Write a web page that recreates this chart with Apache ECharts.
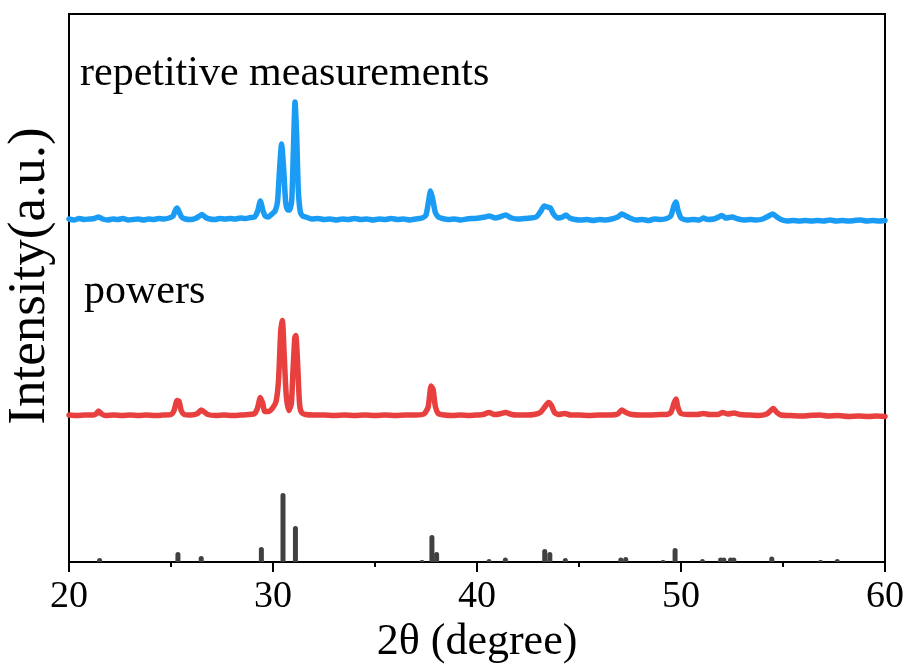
<!DOCTYPE html>
<html>
<head>
<meta charset="utf-8">
<script src="https://cdn.jsdelivr.net/npm/echarts@6/dist/echarts.min.js"></script>
<style>
  html, body { margin: 0; padding: 0; background: #fff; }
  #chart { width: 911px; height: 666px; }
</style>
</head>
<body>
<div id="chart"></div>
<script>
// Reference stick pattern: 2θ positions and relative intensities
const refTheta = [21.5, 25.34, 26.48, 29.43, 30.49, 31.1, 37.3, 37.79, 38.02, 40.59, 41.39, 43.32, 43.57, 44.33,
  47.05, 47.29, 49.12, 49.71, 51.05, 51.94, 52.1, 52.43, 52.59, 54.45, 56.84, 57.66];
const refIntensity = [4, 10, 6, 15, 69, 36, 2, 27, 10, 3, 4.5, 13, 10, 4,
  4.5, 5, 2, 14, 3, 4.5, 4.5, 4.5, 4.5, 5.5, 2, 3];

// Powder pattern
const powderTheta = [20.0, 20.4, 20.8, 21.2, 21.35, 21.45, 21.6, 21.8, 22.2, 22.6, 23.0, 23.4, 23.8, 24.2, 24.6, 25.0,
  25.15, 25.3, 25.4, 25.5, 25.65, 26.0, 26.3, 26.48, 26.6, 26.8, 27.2, 27.6, 28.0, 28.4, 28.8, 29.1,
  29.25, 29.38, 29.5, 29.6, 29.8, 30.0, 30.15, 30.27, 30.38, 30.46, 30.55, 30.65, 30.78, 30.9, 30.98,
  31.07, 31.12, 31.2, 31.3, 31.4, 31.6, 32.0, 32.5, 33.0, 33.5, 34.0, 34.5, 35.0, 35.5, 36.0, 36.5,
  37.0, 37.4, 37.6, 37.75, 37.85, 37.95, 38.1, 38.4, 38.8, 39.2, 39.6, 40.0, 40.3, 40.6, 40.85, 41.1,
  41.4, 41.7, 42.0, 42.4, 42.8, 43.1, 43.3, 43.5, 43.65, 43.8, 44.0, 44.3, 44.6, 45.0, 45.5, 46.0,
  46.5, 46.9, 47.1, 47.3, 47.6, 48.0, 48.5, 49.0, 49.3, 49.5, 49.65, 49.75, 49.85, 50.0, 50.4, 50.8,
  51.1, 51.4, 51.8, 52.05, 52.3, 52.6, 52.9, 53.3, 53.8, 54.2, 54.4, 54.52, 54.7, 54.9, 55.3, 55.8,
  56.3, 56.8, 57.2, 57.7, 58.2, 58.7, 59.2, 59.6, 60.0];
const powderIntensity = [0.5, 0, 0.5, 0.5, 2, 4.5, 1.5, 0, 0.5, 0, 0.5, 0, 0.5, 0, 0.5, 1,
  5, 15, 14, 5, 1, 0.5, 2, 5.5, 4, 1, 0, 0.5, 0, 0.5, 1, 2,
  8, 18, 12, 4, 4, 8, 14, 35, 85, 95, 60, 20, 5, 12, 45,
  78, 80, 55, 12, 3, 1, 0.5, 0.5, 0, 0.5, 0, 0.5, 0, 0.5, 0, 0.5,
  0.5, 1.5, 8, 29.5, 26, 10, 2, 0.5, 0, 0.5, 0, 0.5, 1, 3, 1, 1.5,
  3, 1, 0.5, 0.5, 1, 3, 8, 13, 10, 3, 1, 2, 0.5, 0.5, 0, 0.5,
  0.5, 1.5, 5.5, 3, 1, 0.5, 0.5, 1, 1, 3, 12, 16.5, 8, 2, 1, 1,
  2, 1, 1, 3, 1.5, 2.5, 1, 0.5, 0, 1.5, 5, 7, 3, 0.5, 0, -0.5,
  0, 0.5, -0.5, 0, -1, -0.5, -1, -0.5, -1];

// Repeated measurement pattern
const repeatTheta = [20.0, 20.25, 20.5, 20.75, 21.0, 21.25, 21.45, 21.65, 21.9, 22.15, 22.4, 22.65, 22.9, 23.15, 23.4,
  23.65, 23.9, 24.15, 24.4, 24.65, 24.9, 25.1, 25.22, 25.3, 25.4, 25.52, 25.7, 25.95, 26.2, 26.4, 26.52,
  26.7, 26.9, 27.15, 27.4, 27.65, 27.9, 28.15, 28.4, 28.65, 28.9, 29.1, 29.25, 29.38, 29.5, 29.62, 29.78,
  29.95, 30.1, 30.22, 30.32, 30.42, 30.52, 30.62, 30.72, 30.82, 30.92, 31.0, 31.08, 31.16, 31.24, 31.34,
  31.45, 31.6, 31.9, 32.2, 32.5, 32.8, 33.1, 33.4, 33.7, 34.0, 34.3, 34.6, 34.9, 35.2, 35.5, 35.8, 36.1,
  36.4, 36.7, 37.0, 37.3, 37.5, 37.62, 37.72, 37.82, 37.95, 38.1, 38.3, 38.6, 38.9, 39.2, 39.5, 39.8,
  40.1, 40.4, 40.6, 40.9, 41.1, 41.4, 41.7, 42.0, 42.3, 42.6, 42.9, 43.1, 43.3, 43.45, 43.6, 43.75,
  43.95, 44.2, 44.35, 44.55, 44.8, 45.1, 45.4, 45.7, 46.0, 46.3, 46.6, 46.9, 47.1, 47.3, 47.5, 47.8,
  48.1, 48.4, 48.7, 49.0, 49.3, 49.5, 49.65, 49.75, 49.85, 50.0, 50.3, 50.6, 50.9, 51.1, 51.3, 51.6,
  51.85, 52.0, 52.2, 52.5, 52.8, 53.1, 53.4, 53.7, 54.0, 54.3, 54.5, 54.7, 54.9, 55.2, 55.5, 55.8,
  56.1, 56.4, 56.7, 57.0, 57.3, 57.6, 57.9, 58.2, 58.5, 58.8, 59.1, 59.4, 59.7, 60.0];
const repeatIntensity = [1, 0, 1.5, 0.5, 1, 1.5, 3, 1, 0, 1, 0.5, 1.5, 0, 0.5, 1,
  0, 1, 0.5, 1.5, 1, 2, 4, 10, 12, 8, 3, 1, 0.5, 1.5, 4, 5.5,
  2.5, 1, 0.5, 1.5, 1, 1.5, 1, 2, 1.5, 2.5, 3, 9, 19, 10, 4, 3,
  6, 9, 18, 50, 76, 52, 18, 10, 10, 20, 70, 118, 85, 30, 8,
  4, 3, 1, 1.5, 0.5, 1, 0, 1, 0.5, 1.5, 0.5, 1, 0, 1, 0.5, 1.5, 0.5,
  1, 0, 1, 2, 5, 18, 29, 22, 8, 3, 1.5, 0.5, 1, 0, 1, 1.5,
  2, 3, 4, 2, 3, 5, 2, 1, 1.5, 2, 3, 8, 14, 13, 12, 6,
  2, 3, 5, 2, 0.5, 0, 0.5, -0.5, 0.5, 0, 1, 3, 6, 4, 2, 0,
  0.5, -0.5, 1, 0.5, 1.5, 4, 14, 18, 10, 2, 0, 0.5, 0, 2, 0.5, 1,
  3, 4.5, 2, 3, 1, 0, 0.5, 0, 1, 4, 6, 3, 0.5, -1, -0.5, -1,
  -0.5, -1, -0.5, -1, 0, -1, -0.5, -1, -0.5, 0, -1, -0.5, -1, -0.5];

const xTicks = [20, 30, 40, 50, 60];

// Vertical offsets used to stack the three patterns
const powderOffset = 146.5;
const repeatOffset = 342;

const pairs = (xs, ys, off) => xs.map((x, i) => [x, ys[i] + off]);

const chart = echarts.init(document.getElementById('chart'), null, { renderer: 'canvas' });
const serif = '"Liberation Serif", "Times New Roman", serif';

chart.setOption({
  animation: false,
  backgroundColor: '#ffffff',
  grid: {
    left: 69, right: 26, top: 14, bottom: 104,
    containLabel: false,
    outerBoundsMode: 'none',
    show: true, borderColor: '#000', borderWidth: 2
  },
  xAxis: {
    type: 'value',
    min: xTicks[0], max: xTicks[xTicks.length - 1], interval: 10,
    name: '2θ (degree)',
    nameLocation: 'middle',
    nameGap: 54,
    nameTextStyle: { fontFamily: serif, fontSize: 44, color: '#000' },
    axisLine: { show: true, lineStyle: { color: '#000', width: 2 } },
    axisTick: { show: true, inside: false, length: 10, lineStyle: { color: '#000', width: 2 } },
    minorTick: { show: true, splitNumber: 2, length: 5, lineStyle: { color: '#000', width: 2 } },
    axisLabel: { fontFamily: serif, fontSize: 38, color: '#000', margin: 16 },
    splitLine: { show: false }
  },
  yAxis: {
    type: 'value',
    min: 0, max: 548,
    name: 'Intensity(a.u.)',
    nameLocation: 'middle',
    nameRotate: 90,
    nameGap: 12,
    nameTextStyle: { fontFamily: serif, fontSize: 53, color: '#000', padding: [0, 0, 0, 24] },
    axisLine: { show: false },
    axisTick: { show: false },
    axisLabel: { show: false },
    splitLine: { show: false }
  },
  graphic: [
    { type: 'text', left: 80, top: 53, style: { text: 'repetitive measurements', font: '42px ' + serif, fill: '#000' } },
    { type: 'text', left: 84, top: 271, style: { text: 'powers', font: '42px ' + serif, fill: '#000' } }
  ],
  series: [
    {
      type: 'bar',
      data: pairs(refTheta, refIntensity, 0),
      barWidth: 5,
      itemStyle: { color: '#414141', borderRadius: [2.5, 2.5, 0, 0] },
      z: 2
    },
    {
      type: 'line',
      data: pairs(powderTheta, powderIntensity, powderOffset),
      showSymbol: false,
      smooth: 0.2,
      lineStyle: { color: '#E8403F', width: 5.5, join: 'round', cap: 'round' },
      z: 3
    },
    {
      type: 'line',
      data: pairs(repeatTheta, repeatIntensity, repeatOffset),
      showSymbol: false,
      smooth: 0.2,
      lineStyle: { color: '#1A9CF4', width: 5.5, join: 'round', cap: 'round' },
      z: 3
    }
  ]
});
</script>
</body>
</html>
